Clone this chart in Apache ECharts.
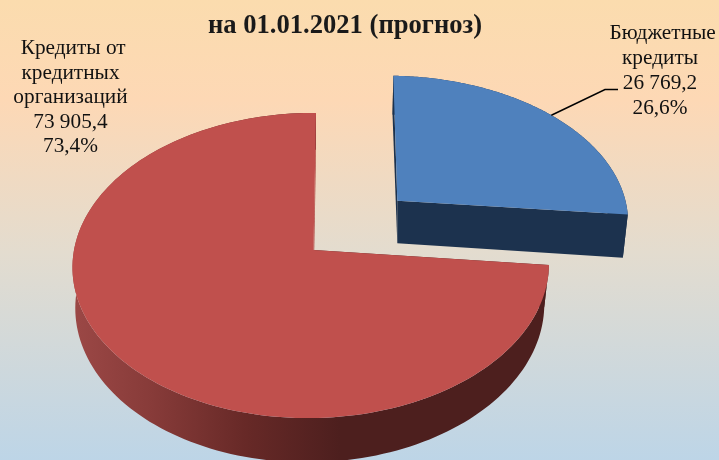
<!DOCTYPE html>
<html><head><meta charset="utf-8">
<style>html,body{margin:0;padding:0;background:#fff}#c{width:719px;height:460px}</style>
<script src="https://cdn.jsdelivr.net/npm/echarts@6/dist/echarts.min.js"></script>
</head><body><div id="c"></div>
<script>
var chartTitle = 'на 01.01.2021 (прогноз)';
var categories = ['Бюджетные кредиты', 'Кредиты от кредитных организаций'];
var values = [26769.2, 73905.4];
var valueLabels = ['26 769,2', '73 905,4'];
var percentLabels = ['26,6%', '73,4%'];
var labelNameLines = [[' Бюджетные', 'кредиты'], [' Кредиты от', 'кредитных', 'организаций']];

var total = values.reduce(function (a, b) { return a + b; }, 0);
var SERIF = '"Liberation Serif","Times New Roman",serif';

// Perspective view of each exploded slice: upper and lower rim.
var views = [
  { top: { x: 397.3, y: 200.7, rx: 235, ry: 141.6, k: 0.133, m: 0.03, s: -4.5 },
    bot: { x: 397.3, y: 243.3, rx: 229.5, ry: 148, k: 0.15, m: 0.03, s: -5.5 },
    face: '#4f81bd', wall: '#1c324e', cutStart: '#1c324e', cutEnd: '#1c324e' },
  { top: { x: 313.5, y: 250, rx: 237, ry: 151, k: 0.1016, m: 0.0104, s: 2.75 },
    bot: { x: 313.5, y: 292, rx: 233.5, ry: 155, k: 0.09, m: 0.0147, s: 2.75 },
    face: '#c0504d', cutStart: '#4d1f1e', cutEnd: '#ad4643',
    wall: { type: 'linear', x: 72, y: 0, x2: 340, y2: 0, global: true, colorStops: [
      { offset: 0, color: '#9c4846' }, { offset: 0.3, color: '#873b39' },
      { offset: 0.65, color: '#672927' }, { offset: 1, color: '#4d1f1e' }] } }
];

function proj(v, a) {
  var u = Math.sin(a), c = Math.cos(a), w = 1 + v.k * c + v.m * u;
  return [v.x + (v.rx * u + v.s * c) / w, v.y - v.ry * c / w];
}
function arc(v, a0, a1) {
  var pts = [], n = 160;
  for (var i = 0; i <= n; i++) pts.push(proj(v, a0 + (a1 - a0) * i / n));
  return pts;
}
function poly(points, fill, z2) {
  return { type: 'polygon', z2: z2, silent: true, shape: { points: points },
           style: { fill: fill, stroke: null } };
}
function txt(text, x, y, z2) {
  return { type: 'text', z2: z2, silent: true,
           style: { text: text, x: x, y: y, fill: '#111', font: '21.3px ' + SERIF,
                    textAlign: 'center', textVerticalAlign: 'middle' } };
}

function renderItem(params, api) {
  var i = params.dataIndex, V = views[i];
  var before = 0;
  for (var j = 0; j < i; j++) before += values[j];
  var a0 = before / total * 2 * Math.PI;
  var a1 = (before + api.value(0)) / total * 2 * Math.PI;
  var T = V.top, B = V.bot, kids = [];
  var apexT = [T.x, T.y], apexB = [B.x, B.y];

  // outer wall
  kids.push(poly(arc(T, a0, a1).concat(arc(B, a0, a1).reverse()), V.wall, 1));
  // cut walls
  kids.push(poly([proj(T, a0), apexT, apexB, proj(B, a0)], V.cutStart, 1));
  kids.push(poly([proj(T, a1), apexT, apexB, proj(B, a1)], V.cutEnd, 1));
  // upper face
  kids.push(poly([apexT].concat(arc(T, a0, a1)), V.face, 2));

  // labels
  var lines = labelNameLines[i].concat([valueLabels[i], percentLabels[i]]);
  var cx = i === 0 ? 660 : 70.5, y0 = i === 0 ? 33.5 : 48.5, lh = i === 0 ? 25 : 24.5;
  lines.forEach(function (t, n) { kids.push(txt(t, cx, y0 + n * lh, 5)); });

  // leader line for the first slice, from the middle of its arc
  if (i === 0) {
    var mid = proj(T, (a0 + a1) / 2);
    kids.push({ type: 'polyline', z2: 4, silent: true,
      shape: { points: [mid, [605, 89.5], [618, 89.5]] },
      style: { stroke: '#000', lineWidth: 1.5, fill: null } });
  }
  return { type: 'group', children: kids };
}

var chart = echarts.init(document.getElementById('c'), null, { renderer: 'canvas' });
chart.setOption({
  animation: false,
  backgroundColor: { type: 'linear', x: 0, y: 0, x2: 0, y2: 1, colorStops: [
    { offset: 0, color: '#fbdcae' }, { offset: 0.22, color: '#fdd8b5' },
    { offset: 0.55, color: '#e3dccf' }, { offset: 1, color: '#bdd5e7' }] },
  title: { text: chartTitle, left: 340, top: 8, textAlign: 'center',
    textStyle: { fontFamily: SERIF, fontSize: 26.6, fontWeight: 'bold', color: '#1a1a1a' } },
  series: [{
    type: 'custom', coordinateSystem: 'none', renderItem: renderItem, clip: false,
    encode: { value: 0, itemName: 1 },
    data: values.map(function (v, i) { return { name: categories[i], value: [v] }; })
  }]
});
</script></body></html>
